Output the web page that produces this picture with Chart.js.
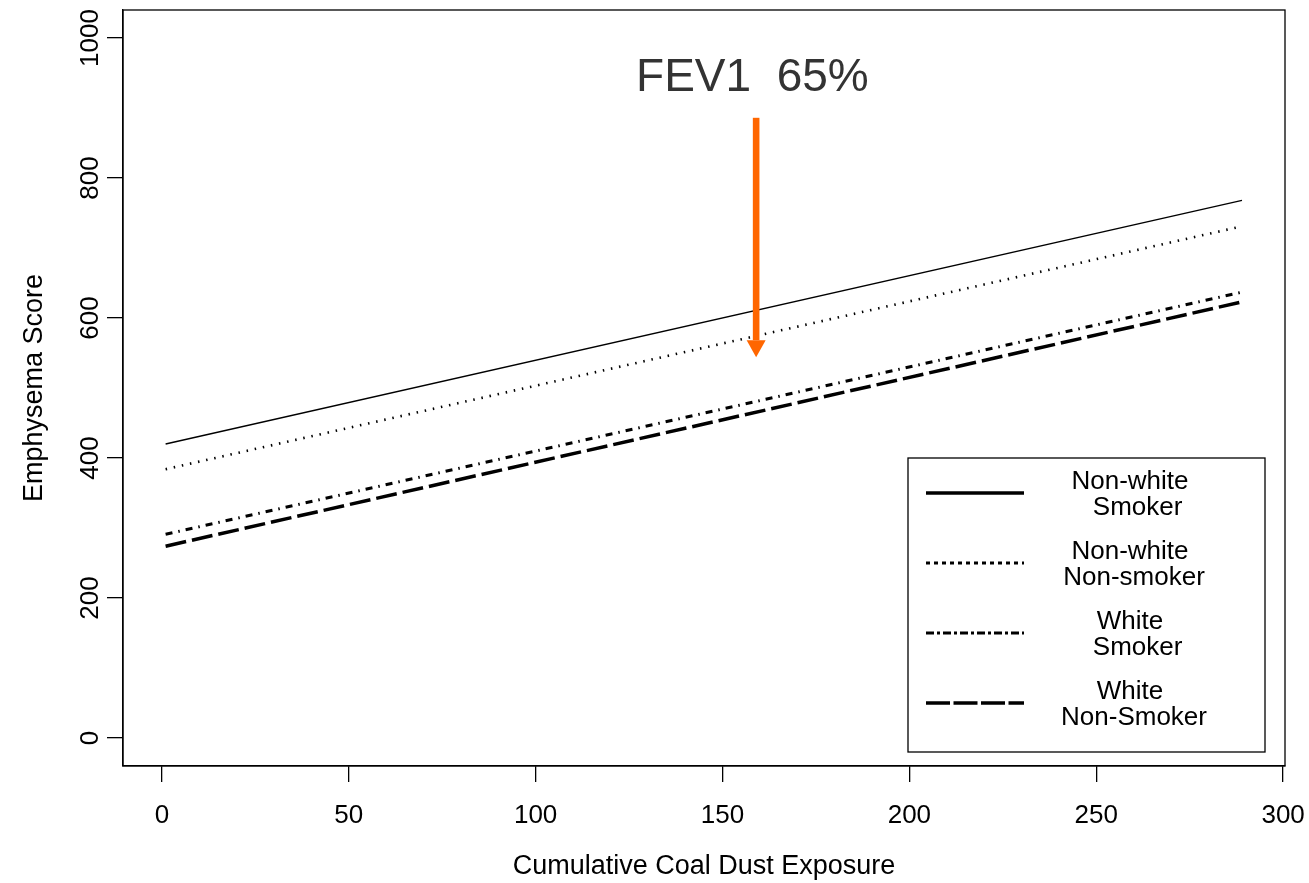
<!DOCTYPE html>
<html>
<head>
<meta charset="utf-8">
<script src="https://cdn.jsdelivr.net/npm/chart.js@4.4.1/dist/chart.umd.min.js"></script>
<style>
  html, body { margin: 0; padding: 0; background: #fff; }
  #wrap { width: 1309px; height: 883px; }
</style>
</head>
<body>
<div id="wrap"><canvas id="chart"></canvas></div>
<script>
// exposure at both ends of the fitted lines
var exposure = [1, 289];

var nonWhiteSmoker = [420, 768];
var nonWhiteNonSmoker = [384, 731];
var whiteSmoker = [291, 637];
var whiteNonSmoker = [274, 623];

var seriesNames = [
    ["Non-white", " Smoker"],
    ["Non-white", "Non-smoker"],
    ["White", " Smoker"],
    ["White", "Non-Smoker"],
];

var xTicks = [0, 50, 100, 150, 200, 250, 300];
var yTicks = [0, 200, 400, 600, 800, 1000];

// orange arrow and its note
var arrowAt = 159;
var arrowFrom = 886;
var arrowTo = 544;
var noteText = "FEV1  65%";
var noteX = 158;
var noteY = 943;

// line looks: plot width/dash, legend width/dash
var lineStyles = [
    { width: 1.3, dash: [], legendWidth: 3.5, legendDash: [] },
    { width: 2.6, dash: [1.5, 6.8], legendWidth: 3, legendDash: [4, 4] },
    { width: 3, dash: [7, 6, 1.5, 6], legendWidth: 3.2, legendDash: [8, 3, 3, 3] },
    { width: 3.5, dash: [21, 6], legendWidth: 3.5, legendDash: [24, 3.5] },
];

var family = "'Liberation Sans', Arial, sans-serif";
var tickFont = { family: family, size: 26 };
var titleFont = { family: family, size: 27 };

function toPoints(ys) {
    return exposure.map((x, i) => ({ x: x, y: ys[i] }));
}

var allSeries = [nonWhiteSmoker, nonWhiteNonSmoker, whiteSmoker, whiteNonSmoker];

const decorations = {
    id: "decorations",
    afterDraw(chart) {
        const ctx = chart.ctx;
        const a = chart.chartArea;
        const xs = chart.scales.x;
        const ys = chart.scales.y;
        ctx.save();

        // full box round the plot
        ctx.strokeStyle = "#000";
        ctx.lineWidth = 1.3;
        ctx.setLineDash([]);
        ctx.strokeRect(a.left, a.top, a.right - a.left, a.bottom - a.top);

        // legend
        ctx.lineWidth = 1.3;
        ctx.strokeRect(908, 458, 357, 294);
        ctx.fillStyle = "#000";
        ctx.font = "26px " + family;
        ctx.textAlign = "center";
        ctx.textBaseline = "middle";
        for (let i = 0; i < seriesNames.length; i++) {
            const st = lineStyles[i];
            const ly = 493 + i * 70;
            ctx.beginPath();
            ctx.lineWidth = st.legendWidth;
            ctx.setLineDash(st.legendDash);
            ctx.moveTo(926, ly);
            ctx.lineTo(1024, ly);
            ctx.stroke();
            ctx.fillText(seriesNames[i][0], 1130, 482 + i * 70);
            ctx.fillText(seriesNames[i][1], 1134, 508 + i * 70);
        }
        ctx.setLineDash([]);

        // arrow
        const px = xs.getPixelForValue(arrowAt);
        const top = ys.getPixelForValue(arrowFrom);
        const tip = ys.getPixelForValue(arrowTo);
        ctx.fillStyle = "#FF6600";
        ctx.fillRect(px - 3.3, top, 6.6, tip - 17 - top);
        ctx.beginPath();
        ctx.moveTo(px - 9.5, tip - 17);
        ctx.lineTo(px + 9.5, tip - 17);
        ctx.lineTo(px, tip);
        ctx.closePath();
        ctx.fill();

        // note text
        ctx.fillStyle = "#333";
        ctx.font = "46px " + family;
        ctx.fillText(noteText, xs.getPixelForValue(noteX), ys.getPixelForValue(noteY));

        ctx.restore();
    },
};

new Chart(document.getElementById("chart"), {
    type: "line",
    data: {
        datasets: allSeries.map((s, i) => ({
            label: seriesNames[i].join(" ").replace("  ", " "),
            data: toPoints(s),
            borderColor: "#000",
            borderWidth: lineStyles[i].width,
            borderDash: lineStyles[i].dash,
            pointRadius: 0,
            fill: false,
            tension: 0,
        })),
    },
    options: {
        responsive: true,
        maintainAspectRatio: false,
        animation: false,
        layout: { padding: { top: 10, right: 24, left: 0, bottom: 0 } },
        plugins: {
            legend: { display: false },
            tooltip: { enabled: false },
        },
        scales: {
            x: {
                type: "linear",
                min: -10.4,
                max: 300.5,
                afterBuildTicks: (s) => { s.ticks = xTicks.map((v) => ({ value: v })); },
                afterFit: (s) => {
                    s.height = 117;
                    s.paddingLeft = 0;
                    s.paddingRight = 0;
                },
                grid: { drawOnChartArea: false, tickLength: 16, color: "#000", lineWidth: 1.3 },
                border: { color: "#000", width: 1.3 },
                ticks: { font: tickFont, color: "#000", padding: 18, maxRotation: 0, callback: (v) => String(v) },
                title: {
                    display: true,
                    text: "Cumulative Coal Dust Exposure",
                    font: titleFont,
                    color: "#000",
                    padding: { top: 0, bottom: 0 },
                },
            },
            y: {
                type: "linear",
                min: -40,
                max: 1040,
                afterBuildTicks: (s) => { s.ticks = yTicks.map((v) => ({ value: v })); },
                afterFit: (s) => {
                    s.width = 123;
                    s.paddingTop = 0;
                    s.paddingBottom = 0;
                },
                grid: { drawOnChartArea: false, tickLength: 16, color: "#000", lineWidth: 1.3 },
                border: { color: "#000", width: 1.3 },
                ticks: {
                    font: tickFont,
                    color: "#000",
                    padding: -13,
                    minRotation: 90,
                    maxRotation: 90,
                    crossAlign: "center",
                    callback: (v) => String(v),
                },
                title: {
                    display: true,
                    text: "Emphysema Score",
                    font: titleFont,
                    color: "#000",
                    padding: { top: 18, bottom: 0 },
                },
            },
        },
    },
    plugins: [decorations],
});
</script>
</body>
</html>
